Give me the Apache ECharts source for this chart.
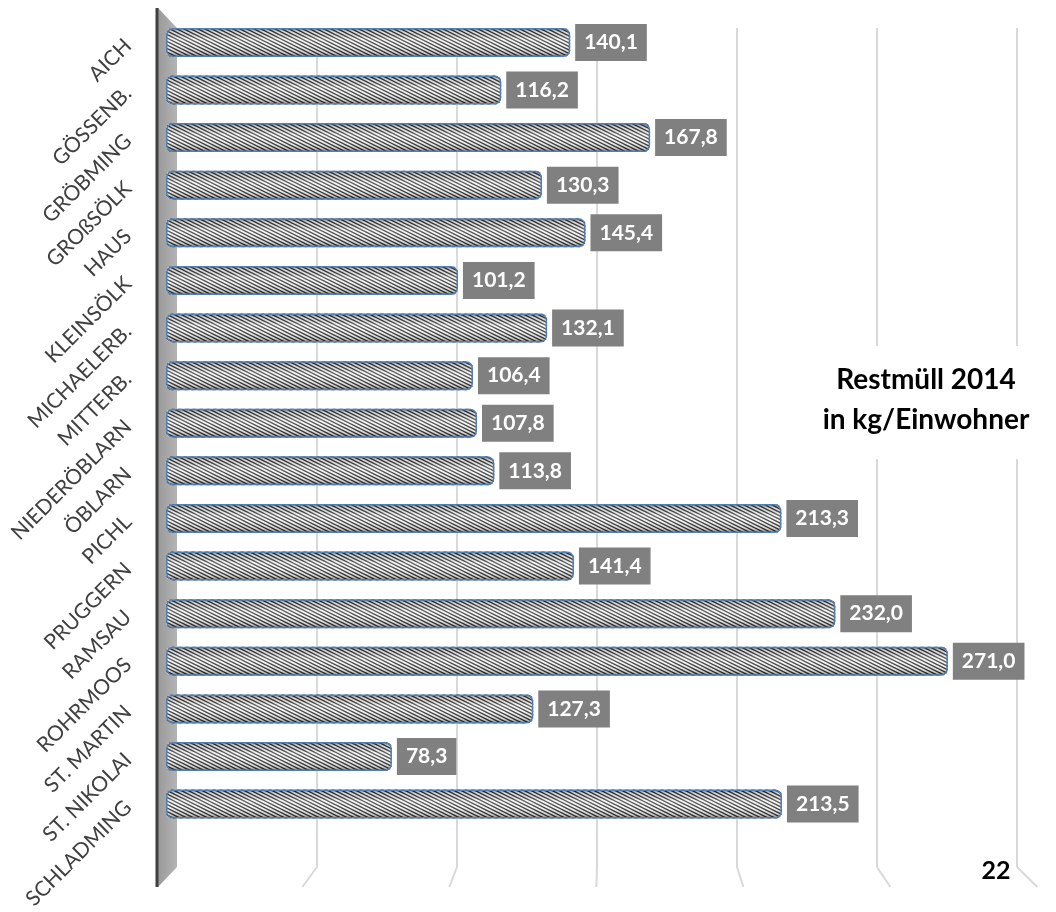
<!DOCTYPE html>
<html>
<head>
<meta charset="utf-8">
<script src="https://cdn.jsdelivr.net/npm/echarts@6/dist/echarts.min.js"></script>
<style>
html,body{margin:0;padding:0;background:#fff;}
#main{width:1056px;height:912px;}
</style>
</head>
<body>
<div id="main"></div>
<script>
const categories = ['AICH','GÖSSENB.','GRÖBMING','GROßSÖLK','HAUS','KLEINSÖLK','MICHAELERB.','MITTERB.','NIEDERÖBLARN','ÖBLARN','PICHL','PRUGGERN','RAMSAU','ROHRMOOS','ST. MARTIN','ST. NIKOLAI','SCHLADMING'];
const values = [140.1,116.2,167.8,130.3,145.4,101.2,132.1,106.4,107.8,113.8,213.3,141.4,232.0,271.0,127.3,78.3,213.5];
const gridTicks = [0,50,100,150,200,250,300];
const titleLines = ['Restmüll 2014','in kg/Einwohner'];
const pageNumber = '22';

// stripe pattern
const tile = document.createElement('canvas');
tile.width = 14; tile.height = 7;
const ctx = tile.getContext('2d');
ctx.fillStyle = '#f6f6f6';
ctx.fillRect(0,0,14,7);
ctx.strokeStyle = '#3a3a3a';
ctx.lineWidth = 1.5;
for (let k = -4; k <= 4; k++) {
  ctx.beginPath();
  ctx.moveTo(-14, k*3.5 - 7);
  ctx.lineTo(28, k*3.5 + 14);
  ctx.stroke();
}

const chart = echarts.init(document.getElementById('main'), null, {renderer:'canvas'});
const fmt = v => v.toFixed(1).replace('.', ',');

const option = {
  backgroundColor: '#fff',
  animation: false,
  grid: [
    {left: 177, width: 840, top: 28, height: 839},
    {left: 166, width: 865.5, top: 18.6, height: 811.6}
  ],
  xAxis: [
    {gridIndex:0, type:'value', min:gridTicks[0], max:gridTicks[gridTicks.length-1], interval:50,
     axisLabel:{show:false}, axisLine:{show:false}, axisTick:{show:false},
     splitLine:{show:true, showMinLine:false, lineStyle:{color:'#d9d9d9', width:2}}},
    {gridIndex:1, type:'value', min:0, max:300,
     axisLabel:{show:false}, axisLine:{show:false}, axisTick:{show:false}, splitLine:{show:false}}
  ],
  yAxis: [
    {gridIndex:0, type:'value', show:false, splitLine:{show:false}},
    {gridIndex:1, type:'category', data:categories, inverse:true,
     axisLine:{show:false}, axisTick:{show:false},
     axisLabel:{rotate:45, margin:38, fontFamily:'Lato', fontSize:21, color:'#404040'}}
  ],
  series: [
    {
      type:'bar', xAxisIndex:1, yAxisIndex:1, data:values, barWidth:29, z:3,
      itemStyle:{color:{image:tile, repeat:'repeat'}, borderRadius:6},
      label:{show:true, position:'right', distance:5,
        formatter: p => fmt(p.value),
        backgroundColor:'#808080', color:'#fff', fontFamily:'Lato', fontWeight:'bold',
        fontSize:21, lineHeight:23, padding:[7,9,7,9]}
    },
    {
      type:'bar', xAxisIndex:1, yAxisIndex:1, data:values, barWidth:29, barGap:'-100%', z:4, silent:true,
      itemStyle:{
        borderRadius:6, borderColor:'#4f7fb3', borderWidth:1.5,
        color:{type:'linear', x:0, y:0, x2:0, y2:1, colorStops:[
          {offset:0, color:'rgba(0,0,0,0.45)'},
          {offset:0.14, color:'rgba(0,0,0,0.1)'},
          {offset:0.38, color:'rgba(255,255,255,0.25)'},
          {offset:0.6, color:'rgba(255,255,255,0.1)'},
          {offset:0.86, color:'rgba(0,0,0,0.15)'},
          {offset:1, color:'rgba(0,0,0,0.5)'}
        ]}
      }
    }
  ]
};
chart.setOption(option);

// decorations: wall, gridline floor slants, title, page number
const gfx = [];
gfx.push({type:'polygon', z:0, shape:{points:[[158,8],[177,28],[177,867],[158,887]]},
  style:{fill:{type:'linear', x:0, y:0, x2:1, y2:0, colorStops:[{offset:0,color:'#9a9a9a'},{offset:1,color:'#b4b4b4'}]}}});
gfx.push({type:'line', z:0, shape:{x1:157, y1:8, x2:157, y2:887}, style:{stroke:'#404040', lineWidth:3}});
gridTicks.slice(1).forEach(v => {
  const px = chart.convertToPixel({xAxisIndex:0}, v);
  gfx.push({type:'line', z:0, shape:{x1:px, y1:867, x2:px + (px-610)*0.05, y2:887},
    style:{stroke:'#d9d9d9', lineWidth:2}});
});
gfx.push({type:'rect', z:60, shape:{x:800, y:346, width:250, height:113}, style:{fill:'#fff'}});
gfx.push({type:'text', z:61, style:{text:titleLines[0], x:926, y:380, align:'center', verticalAlign:'middle',
  font:'bold 28px Lato', fill:'#000'}});
gfx.push({type:'text', z:61, style:{text:titleLines[1], x:926, y:420, align:'center', verticalAlign:'middle',
  font:'bold 28px Lato', fill:'#000'}});
gfx.push({type:'text', z:61, style:{text:pageNumber, x:996, y:871, align:'center', verticalAlign:'middle',
  font:'bold 25px Lato', fill:'#000'}});
chart.setOption({graphic: gfx});
</script>
</body>
</html>
